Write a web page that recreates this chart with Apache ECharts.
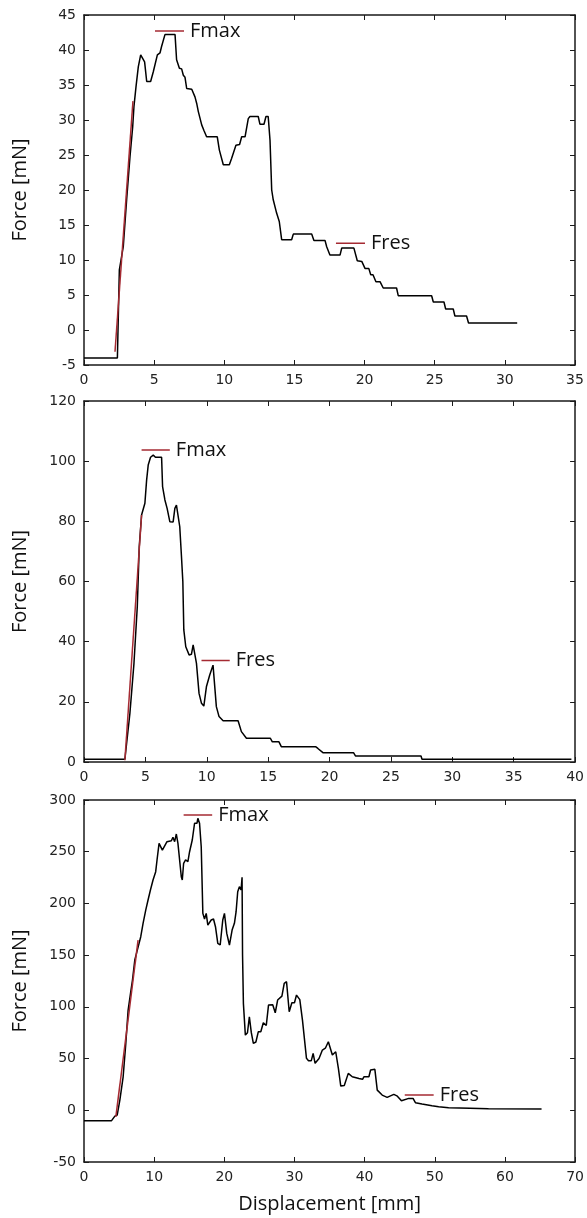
<!DOCTYPE html>
<html lang="en">
<head>
    <meta charset="UTF-8">
    <title>Force vs displacement</title>
    <script src="https://cdn.jsdelivr.net/npm/echarts@6/dist/echarts.min.js"></script>
    <style>
        html, body { margin: 0; padding: 0; background: #fff; }
        #chart { width: 587px; height: 1218px; }
    </style>
</head>
<body>
    <div id="chart"></div>
    <script>
        // 第一组：曲线 [位移, 力]
        var curve1 = [[0, -4], [2.38, -4], [2.52, 8.6], [2.80, 11.9], [3.04, 18.6], [3.28, 24.8], [3.47, 29.0], [3.56, 31.9],
            [3.71, 34.8], [3.87, 37.6], [4.04, 39.3], [4.18, 39.3], [4.32, 38.3], [4.47, 35.5], [4.75, 35.5], [4.94, 36.9],
            [5.23, 39.3], [5.42, 39.6], [5.53, 40.5], [5.77, 42.2], [6.49, 42.2], [6.6, 38.6], [6.8, 37.4], [6.96, 37.3],
            [7.08, 36.4], [7.2, 36.1], [7.32, 34.5], [7.68, 34.4], [7.91, 33.3], [8.03, 32.4], [8.15, 31.2], [8.39, 29.3],
            [8.55, 28.5], [8.74, 27.6], [9.5, 27.6], [9.65, 25.7], [9.79, 25.6], [9.93, 23.6], [10.36, 23.6], [10.52, 24.5],
            [10.64, 24.7], [10.83, 26.4], [11.09, 26.5], [11.24, 27.6], [11.48, 27.6], [11.71, 30.2], [11.83, 30.5], [12.42, 30.5],
            [12.54, 29.4], [12.83, 29.4], [12.97, 30.5], [13.13, 30.5], [13.26, 27.1], [13.38, 20.0], [13.49, 18.6], [13.73, 16.7],
            [13.92, 15.5], [14.09, 12.9], [14.8, 12.9], [14.92, 13.7], [16.23, 13.7], [16.39, 12.8], [17.18, 12.8], [17.3, 11.9],
            [17.42, 11.8], [17.53, 10.7], [18.25, 10.7], [18.37, 11.7], [19.24, 11.7], [19.48, 9.9], [19.8, 9.8], [20.03, 8.8],
            [20.3, 8.8], [20.44, 7.9], [20.6, 7.9], [20.81, 6.9], [21.1, 6.9], [21.33, 6.0], [22.28, 6.0], [22.4, 4.9],
            [24.78, 4.9], [24.9, 4.0], [25.66, 4.0], [25.78, 3.0], [26.32, 3.0], [26.44, 2.0], [27.27, 2.0], [27.41, 1.0], [30.88, 1.0]];
        var fit1 = [[2.21, -3.1], [3.49, 32.7]];
        var fmax1 = [[5.06, 42.7], [7.13, 42.7]];
        var fres1 = [[17.96, 12.4], [20.03, 12.4]];

        // 第二组
        var curve2 = [[0, 0.9], [3.33, 0.9], [3.74, 16.2], [4.07, 32.8], [4.34, 51.6], [4.5, 71.6], [4.69, 82.1], [4.96, 86],
            [5.1, 93.7], [5.23, 98.7], [5.42, 101.3], [5.64, 102], [5.82, 101.3], [6.32, 101.3], [6.4, 91.5], [6.59, 87.1],
            [6.77, 84.3], [6.99, 79.9], [7.26, 79.8], [7.4, 84.3], [7.53, 85.4], [7.67, 85], [7.8, 78.2], [7.94, 68.2],
            [8.05, 60], [8.13, 43.9], [8.29, 38.3], [8.56, 35.6], [8.75, 35.8], [8.89, 38.9], [9.02, 39.4], [9.16, 32.8],
            [9.37, 22.8], [9.57, 19.5], [9.76, 18.6], [9.97, 25], [10.24, 28.9], [10.51, 32.2], [10.65, 32.2], [10.78, 18.4],
            [11, 15.1], [11.33, 13.7], [12.55, 13.7], [12.82, 10.1], [12.96, 9.7], [13.23, 7.9], [15.18, 7.9], [15.34, 6.7],
            [15.88, 6.7], [16.07, 5.1], [18.86, 5.1], [19.05, 4.5], [19.46, 3.1], [21.95, 3.1], [22.11, 2.0], [27.45, 2.0],
            [27.53, 0.9], [39.7, 0.9]];
        var fit2 = [[3.33, 0.6], [4.69, 82.1]];
        var fmax2 = [[4.69, 103.7], [6.99, 103.7]];
        var fres2 = [[9.57, 33.7], [11.87, 33.7]];

        // 第三组
        var curve3 = [[0, -10], [3.93, -10], [4.4, -5.6], [4.73, -4.6], [5.11, 9.9], [5.58, 32.4], [5.96, 64.7], [6.29, 96.9],
            [6.63, 113], [6.91, 125.9], [7.24, 145.3], [7.48, 151.7], [7.72, 153], [8.09, 167.8], [8.42, 180.8], [8.8, 193.6],
            [9.13, 203.3], [9.47, 213], [9.84, 222.6], [10.22, 230.7], [10.41, 242], [10.7, 258.1], [10.79, 259.6], [11.17, 251.6],
            [11.41, 251], [11.83, 259.7], [12.45, 260.6], [12.68, 263.9], [12.92, 259.7], [13.16, 267.1], [13.39, 258.1], [13.63, 259],
            [13.87, 225.8], [14.01, 222.6], [14.2, 238.8], [14.48, 242], [14.81, 240.5], [15.05, 250], [15.43, 261.3], [15.76, 277.5],
            [16.1, 277.5], [16.23, 282.3], [16.47, 277.5], [16.71, 254.8], [16.94, 190.4], [17.18, 185], [17.42, 190.4], [17.65, 179.1],
            [18.13, 184], [18.46, 185], [18.74, 177.5], [19.07, 161.4], [19.41, 159.8], [19.78, 184], [20.02, 190.4], [20.35, 171],
            [20.73, 159.8], [21.11, 174.3], [21.44, 180.8], [21.68, 192], [21.91, 211.3], [22.15, 216.2], [22.39, 213], [22.53, 225.2],
            [22.6, 150], [22.72, 103.4], [23, 72.7], [23.3, 75], [23.57, 90.4], [23.85, 75], [24.14, 64.7], [24.5, 66],
            [24.85, 76], [25.2, 76], [25.56, 84.6], [25.98, 82], [26.3, 101.7], [26.9, 102], [27.26, 94.3], [27.6, 106.6],
            [28.21, 110.4], [28.54, 122.7], [28.87, 124.3], [29.25, 95.3], [29.63, 104], [30.0, 104], [30.29, 111.4], [30.76, 107],
            [31.14, 87.2], [31.71, 50.2], [32.0, 48], [32.4, 48], [32.66, 55], [32.94, 45.4], [33.5, 50], [33.98, 58.2],
            [34.4, 60], [34.83, 66.3], [35.1, 65], [35.4, 53.4], [35.88, 56.6], [36.26, 40.5], [36.6, 23.4], [37.1, 24],
            [37.67, 35.7], [38.24, 32.4], [39.19, 30.8], [39.7, 30], [39.9, 32.4], [40.61, 32.4], [40.85, 38.9], [41.46, 39.6],
            [41.8, 19.5], [42.5, 14.7], [43.21, 12.5], [44.16, 15.4], [44.6, 14], [45.25, 9.2], [46.29, 11.5], [46.9, 11.5],
            [47.24, 7.3], [48.18, 6.0], [49.6, 4.4], [50.55, 3.4], [51.97, 2.4], [55, 2], [57.65, 1.5], [65.22, 1.2]];
        var fit3 = [[4.54, -6.3], [7.71, 164.6]];
        var fmax3 = [[14.2, 285.5], [18.27, 285.5]];
        var fres3 = [[45.72, 14.7], [49.84, 14.7]];

        // 坐标轴范围 [min, max, interval]
        var xRanges = [[0, 35, 5], [0, 40, 5], [0, 70, 10]];
        var yRanges = [[-5, 45, 5], [0, 120, 20], [-50, 300, 50]];
        var yName = 'Force [mN]';
        var xName = 'Displacement [mm]';

        var curves = [curve1, curve2, curve3];
        var fits = [fit1, fit2, fit3];
        var fmaxs = [fmax1, fmax2, fmax3];
        var fress = [fres1, fres2, fres3];

        var myChart = echarts.init(document.getElementById('chart'));

        var axisColor = '#1a1a1a';
        var red = '#a52a32';
        var tickFont = { color: '#222', fontSize: 14, fontFamily: 'DejaVu Sans' };

        var grids = [
            { left: 84, top: 15, width: 491, height: 350 },
            { left: 84, top: 401, width: 492, height: 361 },
            { left: 84, top: 800, width: 493, height: 362 }
        ];

        var xAxes = [], yAxes = [], series = [];

        function axisBase(r, gi, pos, showLabel) {
            return {
                type: 'value',
                gridIndex: gi,
                position: pos,
                min: r[0], max: r[1], interval: r[2],
                axisLine: { show: true, onZero: false, lineStyle: { color: axisColor, width: 1.5 } },
                axisTick: { show: true, inside: true, length: 5, lineStyle: { color: axisColor, width: 1 } },
                axisLabel: Object.assign({ show: showLabel, margin: 8 }, tickFont),
                splitLine: { show: false }
            };
        }

        function redLine(data, xi, label) {
            var s = {
                type: 'line',
                xAxisIndex: xi, yAxisIndex: xi,
                data: data,
                showSymbol: false,
                lineStyle: { color: red, width: 1.5 },
                z: 3
            };
            if (label) {
                s.endLabel = {
                    show: true,
                    formatter: label,
                    distance: 6,
                    color: '#111',
                    fontSize: 20,
                    fontFamily: 'Open Sans'
                };
            }
            return s;
        }

        for (var i = 0; i < 3; i++) {
            var xb = axisBase(xRanges[i], i, 'bottom', true);
            if (i === 2) {
                xb.name = xName;
                xb.nameLocation = 'middle';
                xb.nameGap = 32;
                xb.nameTextStyle = { color: '#111', fontSize: 20, fontFamily: 'Open Sans' };
            }
            xAxes.push(xb);
            var yb = axisBase(yRanges[i], i, 'left', true);
            yb.name = yName;
            yb.nameLocation = 'middle';
            yb.nameGap = 54;
            yb.nameTextStyle = { color: '#111', fontSize: 20, fontFamily: 'Open Sans' };
            yAxes.push(yb);
        }
        // 上边和右边的刻度
        for (var j = 0; j < 3; j++) {
            xAxes.push(axisBase(xRanges[j], j, 'top', false));
            yAxes.push(axisBase(yRanges[j], j, 'right', false));
        }

        for (var k = 0; k < 3; k++) {
            series.push({
                type: 'line',
                xAxisIndex: k, yAxisIndex: k,
                data: curves[k],
                showSymbol: false,
                lineStyle: { color: '#000', width: 1.5 },
                z: 2
            });
            series.push(redLine(fits[k], k));
            series.push(redLine(fmaxs[k], k, 'Fmax'));
            series.push(redLine(fress[k], k, 'Fres'));
        }

        var option = {
            animation: false,
            backgroundColor: '#fff',
            grid: grids,
            xAxis: xAxes,
            yAxis: yAxes,
            series: series
        };

        myChart.setOption(option);
    </script>
</body>
</html>
